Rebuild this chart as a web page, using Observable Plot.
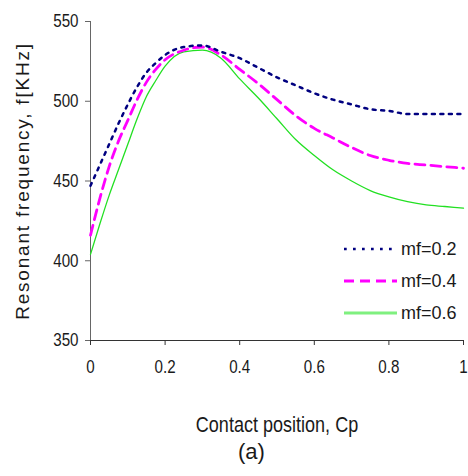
<!DOCTYPE html>
<html><head><meta charset="utf-8">
<script src="https://cdn.jsdelivr.net/npm/d3@7"></script>
<script src="https://cdn.jsdelivr.net/npm/@observablehq/plot@0.6"></script>
<style>
body{margin:0;background:#fff;}
#wrap{position:relative;width:468px;height:476px;background:#fff;}
#wrap svg{display:block;}
#cap{width:433px;padding-left:35px;text-align:center;font-family:"Liberation Sans",Arial,sans-serif;font-size:22px;line-height:22px;margin-top:1px;color:#1a1a1a;}
#legend{position:absolute;left:344px;top:233px;font-family:"Liberation Sans",Arial,sans-serif;font-size:18px;color:#1a1a1a;}
#legend .row{display:flex;align-items:center;height:32px;}
#legend svg{display:block;margin-right:4px;}
</style></head><body><div id="wrap"></div>
<script>
// Data
const cp   = [0, 0.025, 0.05, 0.075, 0.1, 0.125, 0.15, 0.175, 0.2, 0.25, 0.3, 0.35, 0.4, 0.45, 0.5, 0.55, 0.6, 0.65, 0.7, 0.75, 0.8, 0.85, 0.9, 0.95, 1];
const mf02 = [447, 460, 473, 486, 498, 509, 518, 524, 529, 534, 535, 531, 527, 521, 515, 510, 505, 501, 498, 495, 494, 492, 492, 492, 492];
const mf04 = [416, 439, 459, 475, 488, 501, 512, 520, 526, 532, 534, 529, 520, 511, 501, 491, 483, 477, 471, 466, 463, 461, 460, 459, 458];
const mf06 = [404, 423, 441, 457, 473, 489, 503, 513, 522, 531, 532, 527, 514, 502, 489, 476, 466, 457, 450, 444, 440, 437, 435, 434, 433];
const seriesNames = ["mf=0.2", "mf=0.4", "mf=0.6"];
const xTicks = [0, 0.2, 0.4, 0.6, 0.8, 1];
const yTicks = [350, 400, 450, 500, 550];
const xLabel = "Contact position, Cp";
const yLabel = "Resonant frequency, f[KHz]";
const caption = "(a)";

const seriesStyle = {
  "mf=0.2": {stroke: "#000080", strokeWidth: 2.5, strokeDasharray: "3,5.5", legendDash: "2.7,6.3", legendWidth: 2.5, legendStroke: "#000080"},
  "mf=0.4": {stroke: "#ff00ff", strokeWidth: 2.8, strokeDasharray: "10,6", legendDash: "10,6", legendWidth: 2.8, legendStroke: "#ff00ff"},
  "mf=0.6": {stroke: "#22e022", strokeWidth: 1.3, strokeDasharray: null, legendDash: null, legendWidth: 3, legendStroke: "#7ff07f"}
};

const rows = [];
[mf02, mf04, mf06].forEach((vals, i) => cp.forEach((x, j) => rows.push({series: seriesNames[i], cp: x, f: vals[j]})));

const drawOrder = ["mf=0.6", "mf=0.4", "mf=0.2"];
const lineMarks = drawOrder.map(name => Plot.line(rows.filter(d => d.series === name), {
  x: "cp", y: "f", curve: "monotone-x",
  stroke: seriesStyle[name].stroke,
  strokeWidth: seriesStyle[name].strokeWidth,
  strokeDasharray: seriesStyle[name].strokeDasharray ?? undefined
}));

const plot = Plot.plot({
  width: 468, height: 440,
  marginLeft: 90, marginRight: 5, marginTop: 21, marginBottom: 100,
  x: {domain: [0, 1]},
  y: {domain: [350, 550]},
  style: {fontFamily: "'Liberation Sans', Arial, sans-serif", fontSize: "18.5px", background: "white", color: "#1a1a1a"},
  marks: [
    Plot.axisY({ticks: yTicks, tickSize: 5, tickPadding: 7, stroke: "#666", fill: "#1a1a1a", label: yLabel, labelAnchor: "center", labelOffset: 75, labelArrow: "none"}),
    Plot.axisX({ticks: xTicks, tickSize: 5, tickPadding: 14, stroke: "#333", fill: "#1a1a1a", label: xLabel, labelAnchor: "center", labelOffset: 91, labelArrow: "none", tickFormat: d => String(d)}),
    Plot.ruleX([0], {stroke: "#666"}),
    Plot.ruleY([350], {stroke: "#333"}),
    ...lineMarks
  ]
});

const s = d3.select(plot);
s.select('g[aria-label="y-axis label"]').attr("font-size", "19px").attr("letter-spacing", "1.8px");
s.select('g[aria-label="x-axis label"]').attr("font-size", "22px");

// condensed look (Arial Narrow-like) for tick labels and the x label
function narrow(sel, k) {
  sel.selectAll("text").each(function() {
    const t = d3.select(this);
    const tr = t.attr("transform");
    if (tr) {
      t.attr("transform", tr + ` scale(${k},1)`);
    } else {
      const x = +(t.attr("x") || 0), y = +(t.attr("y") || 0);
      t.attr("x", null).attr("y", null).attr("transform", `translate(${x},${y}) scale(${k},1)`);
    }
  });
}
narrow(s.select('g[aria-label="y-axis tick label"]'), 0.82);
narrow(s.select('g[aria-label="x-axis tick label"]'), 0.82);
narrow(s.select('g[aria-label="x-axis label"]'), 0.82);

const wrap = document.getElementById("wrap");
wrap.appendChild(plot);

const cap = document.createElement("div");
cap.id = "cap";
cap.textContent = caption;
wrap.appendChild(cap);

// legend overlay
const legend = d3.select(wrap).append("div").attr("id", "legend");
seriesNames.forEach(name => {
  const st = seriesStyle[name];
  const row = legend.append("div").attr("class", "row");
  const sw = row.append("svg").attr("width", 53).attr("height", 8);
  sw.append("line").attr("x1", 0).attr("x2", 53).attr("y1", 4).attr("y2", 4)
    .attr("stroke", st.legendStroke).attr("stroke-width", st.legendWidth)
    .attr("stroke-dasharray", st.legendDash);
  row.append("span").text(name);
});
</script></body></html>
